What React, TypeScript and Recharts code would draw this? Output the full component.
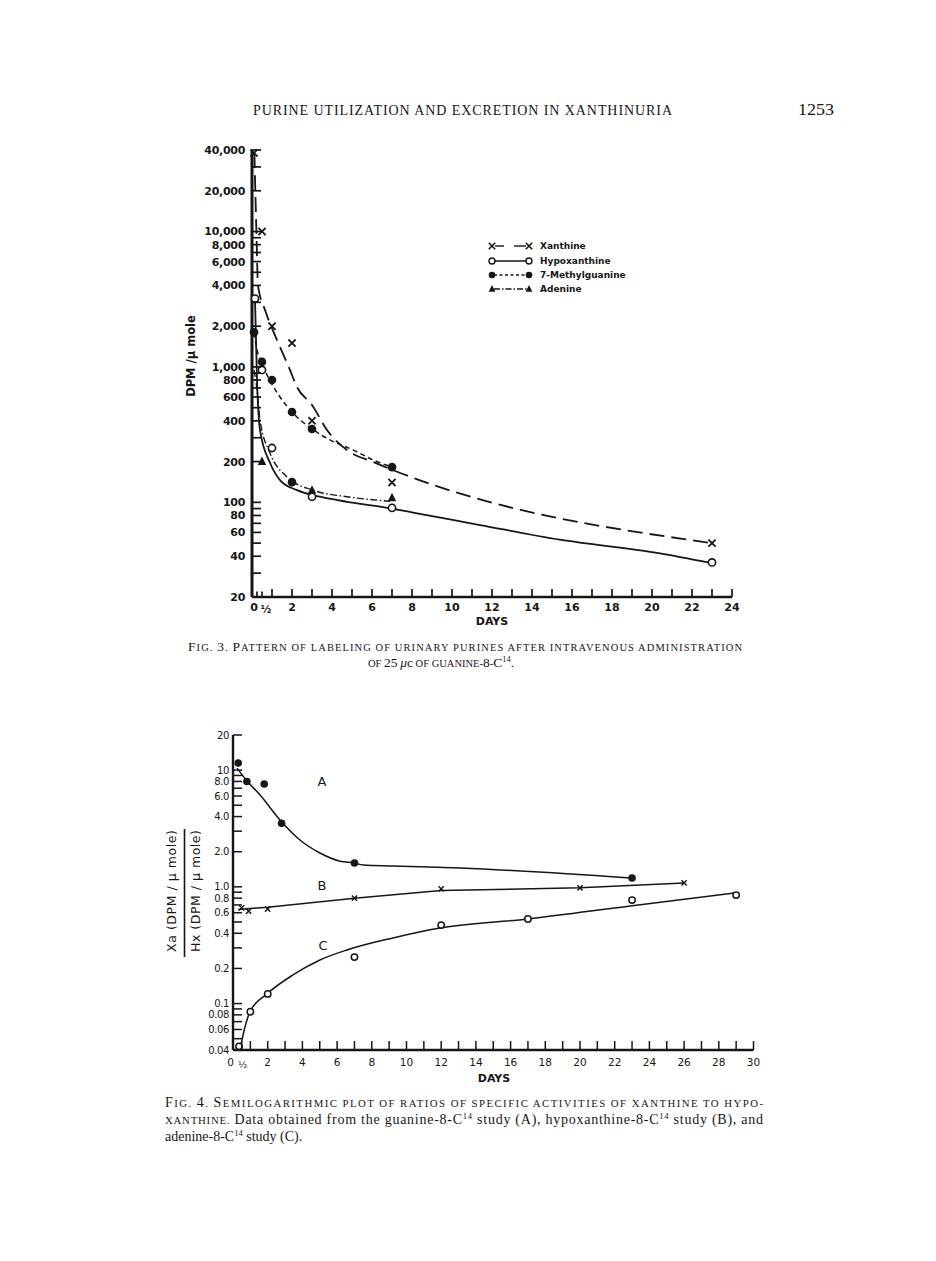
import React from 'react';
import { ComposedChart, Line, Scatter, XAxis, YAxis } from 'recharts';

// ---------------- Fig. 3 data (days, DPM / µmole) ----------------
const fig3XanthinePoints = [
  { d: 0.1, v: 38000 }, { d: 0.5, v: 10000 }, { d: 1, v: 2000 }, { d: 2, v: 1500 },
  { d: 3, v: 400 }, { d: 7, v: 140 }, { d: 23, v: 50 },
];
const fig3XanthineCurve = [
  { d: 0.12, v: 38000 }, { d: 0.22, v: 10000 }, { d: 0.3, v: 4000 }, { d: 0.65, v: 2640 },
  { d: 1.25, v: 1580 }, { d: 1.9, v: 950 }, { d: 2.25, v: 710 }, { d: 3, v: 524 },
  { d: 3.75, v: 342 }, { d: 4.9, v: 235 }, { d: 6.05, v: 199 }, { d: 7.05, v: 173 },
  { d: 23, v: 50 },
];
const fig3HypoPoints = [
  { d: 0.15, v: 3200 }, { d: 0.5, v: 950 }, { d: 1, v: 252 }, { d: 3, v: 110 },
  { d: 7, v: 91 }, { d: 23, v: 36 },
];
const fig3HypoCurve = [
  { d: 0.15, v: 3180 }, { d: 0.25, v: 800 }, { d: 0.4, v: 342 }, { d: 0.9, v: 196 },
  { d: 1.4, v: 146 }, { d: 2.25, v: 123 }, { d: 3.4, v: 110 }, { d: 4.75, v: 101 },
  { d: 6.4, v: 93 }, { d: 8.05, v: 84 }, { d: 11.4, v: 68 }, { d: 15.4, v: 53 },
  { d: 20.4, v: 42 }, { d: 22.8, v: 36 },
];
const fig3MethylPoints = [
  { d: 0.1, v: 1800 }, { d: 0.5, v: 1090 }, { d: 1, v: 800 }, { d: 2, v: 465 },
  { d: 2, v: 141 }, { d: 3, v: 348 }, { d: 7, v: 182 },
];
const fig3MethylCurve = [
  { d: 0.1, v: 1790 }, { d: 0.3, v: 1250 }, { d: 0.5, v: 1050 }, { d: 0.9, v: 790 },
  { d: 1.4, v: 600 }, { d: 2, v: 465 }, { d: 3, v: 348 }, { d: 3.9, v: 289 },
  { d: 5.05, v: 244 }, { d: 6.05, v: 206 }, { d: 7, v: 182 },
];
const fig3AdeninePoints = [{ d: 0.5, v: 200 }, { d: 3, v: 123 }, { d: 7, v: 108 }];
const fig3AdenineCurve = [
  { d: 0.1, v: 950 }, { d: 0.25, v: 677 }, { d: 0.4, v: 406 }, { d: 0.9, v: 231 },
  { d: 1.75, v: 154 }, { d: 3.05, v: 123 }, { d: 4.75, v: 110 }, { d: 6.9, v: 102 },
];

const fig3YLabeled = [20, 40, 60, 80, 100, 200, 400, 600, 800, 1000, 2000, 4000, 6000, 8000, 10000, 20000, 40000];
const fig3YLabels = ['20', '40', '60', '80', '100', '200', '400', '600', '800', '1,000', '2,000', '4,000', '6,000', '8,000', '10,000', '20,000', '40,000'];
const fig3YMinor = [30, 50, 70, 90, 300, 500, 700, 900, 3000, 5000, 7000, 9000, 30000];
const fig3XTicks = [0.25, 0.5, 1, 2, 3, 4, 5, 6, 7, 8, 9, 10, 11, 12, 13, 14, 15, 16, 17, 18, 19, 20, 21, 22, 23, 24];
const fig3XLabeled = [2, 4, 6, 8, 10, 12, 14, 16, 18, 20, 22, 24];

// ---------------- Fig. 4 data (days, ratio Xa/Hx) ----------------
const fig4APoints = [
  { d: 0.3, v: 11.5 }, { d: 0.8, v: 8.0 }, { d: 1.8, v: 7.6 }, { d: 2.8, v: 3.5 },
  { d: 7, v: 1.6 }, { d: 23, v: 1.19 },
];
const fig4ACurve = [
  { d: 0.23, v: 10.4 }, { d: 0.81, v: 8.07 }, { d: 1.56, v: 6.12 }, { d: 2.71, v: 3.74 },
  { d: 3.86, v: 2.52 }, { d: 5.01, v: 1.95 }, { d: 6.17, v: 1.66 }, { d: 6.97, v: 1.6 },
  { d: 7.5, v: 1.54 }, { d: 9.2, v: 1.51 }, { d: 13.1, v: 1.45 }, { d: 22.9, v: 1.19 },
];
const fig4BPoints = [
  { d: 0.5, v: 0.66 }, { d: 0.9, v: 0.62 }, { d: 2, v: 0.645 }, { d: 7, v: 0.8 },
  { d: 12, v: 0.96 }, { d: 20, v: 0.98 }, { d: 26, v: 1.08 },
];
const fig4BCurve = [
  { d: 0.3, v: 0.64 }, { d: 2, v: 0.67 }, { d: 7, v: 0.8 }, { d: 12, v: 0.93 },
  { d: 20, v: 0.98 }, { d: 26, v: 1.08 },
];
const fig4CPoints = [
  { d: 0.35, v: 0.043 }, { d: 1, v: 0.085 }, { d: 2, v: 0.121 }, { d: 7, v: 0.25 },
  { d: 12, v: 0.47 }, { d: 17, v: 0.53 }, { d: 23, v: 0.77 }, { d: 29, v: 0.85 },
];
const fig4CCurve = [
  { d: 0.4, v: 0.04 }, { d: 0.69, v: 0.063 }, { d: 0.98, v: 0.085 }, { d: 1.96, v: 0.121 },
  { d: 3.46, v: 0.176 }, { d: 5.01, v: 0.236 }, { d: 6.57, v: 0.288 }, { d: 9.22, v: 0.365 },
  { d: 11.93, v: 0.444 }, { d: 17, v: 0.531 }, { d: 22.9, v: 0.686 }, { d: 28.9, v: 0.885 },
];

const fig4YLabeled = [0.04, 0.06, 0.08, 0.1, 0.2, 0.4, 0.6, 0.8, 1, 2, 4, 6, 8, 10, 20];
const fig4YLabels = ['0.04', '0.06', '0.08', '0.1', '0.2', '0.4', '0.6', '0.8', '1.0', '2.0', '4.0', '6.0', '8.0', '10', '20'];
const fig4YMinor = [0.05, 0.07, 0.09, 0.3, 0.5, 0.7, 0.9, 3, 5, 7, 9];
const fig4XTicks = [0.5, 1, 2, 3, 4, 5, 6, 7, 8, 9, 10, 11, 12, 13, 14, 15, 16, 17, 18, 19, 20, 21, 22, 23, 24, 25, 26, 27, 28, 29, 30];
const fig4XLabeled = [2, 4, 6, 8, 10, 12, 14, 16, 18, 20, 22, 24, 26, 28, 30];

// ---------------- rendering helpers ----------------
const INK = '#161616';
const SANS = 'DejaVu Sans, sans-serif';
const SERIF = 'Liberation Serif, Times New Roman, serif';

const makeYTick = (labeled: number[], labels: string[], o: any) => (p: any) => {
  const v = p.payload.value;
  const i = labeled.indexOf(v);
  return (
    <g>
      {v !== o.min && (
        <line x1={p.x} x2={p.x + o.len} y1={p.y} y2={p.y} stroke={INK} strokeWidth={o.sw} />
      )}
      {i >= 0 && (
        <text x={p.x - o.gap} y={p.y} dy="0.36em" textAnchor="end" fontFamily={SANS}
          fontSize={o.fs} fontWeight={o.fw} letterSpacing={o.ls} fill={INK}>{labels[i]}</text>
      )}
    </g>
  );
};

const makeXTick = (labeled: number[], o: any) => (p: any) => {
  const v = p.payload.value;
  const tf = { fontFamily: SANS, fontSize: o.fs, fontWeight: o.fw, fill: INK };
  return (
    <g>
      <line x1={p.x} x2={p.x} y1={p.y} y2={p.y - (v < 1 && o.short ? o.len * 0.7 : o.len)} stroke={INK} strokeWidth={o.sw} />
      {v === 0.5 && (
        <g>
          <text x={p.x + o.zeroDx} y={p.y + o.dy} textAnchor="middle" {...tf}>0</text>
          <text x={p.x + o.halfDx} y={p.y + o.dy + 2} textAnchor="middle" {...tf} fontSize={o.fs - 1}>½</text>
        </g>
      )}
      {labeled.includes(v) && (
        <text x={p.x} y={p.y + o.dy} textAnchor="middle" {...tf}>{v}</text>
      )}
    </g>
  );
};

const xShape = (s: number, w: number) => (p: any) => (
  <path d={`M${p.cx - s},${p.cy - s}L${p.cx + s},${p.cy + s}M${p.cx - s},${p.cy + s}L${p.cx + s},${p.cy - s}`}
    stroke={INK} strokeWidth={w} fill="none" />
);
const openShape = (r: number, w: number) => (p: any) => (
  <circle cx={p.cx} cy={p.cy} r={r} fill="#fff" stroke={INK} strokeWidth={w} />
);
const dotShape = (r: number) => (p: any) => <circle cx={p.cx} cy={p.cy} r={r} fill={INK} />;
const triShape = (s: number) => (p: any) => (
  <path d={`M${p.cx},${p.cy - s}L${p.cx + s * 0.85},${p.cy + s * 0.7}L${p.cx - s * 0.85},${p.cy + s * 0.7}Z`} fill={INK} />
);

const legendRows = [
  { y: 246, label: 'Xanthine', dash: '9 5', kind: 'x' },
  { y: 261, label: 'Hypoxanthine', dash: '', kind: 'o' },
  { y: 275, label: '7-Methylguanine', dash: '3 2.5', kind: 'dot' },
  { y: 289, label: 'Adenine', dash: '6 2 1.5 2', kind: 'tri' },
];

const legendMarker = (kind: string, cx: number, cy: number) => {
  if (kind === 'x') return xShape(3.2, 1.6)({ cx, cy });
  if (kind === 'o') return openShape(3, 1.4)({ cx, cy });
  if (kind === 'dot') return dotShape(3.3)({ cx, cy });
  return triShape(4)({ cx, cy });
};

// Small caps built from runs: capitals/digits at full size, lowercase as smaller capitals.
const smallCaps = (s: string, big: number, small: number, keyBase: string) => {
  const runs: { t: string; big: boolean }[] = [];
  for (const ch of s) {
    const isBig = /[A-Z0-9]/.test(ch);
    const last = runs[runs.length - 1];
    if (last && last.big === isBig) last.t += ch;
    else runs.push({ t: ch, big: isBig });
  }
  return runs.map((r, i) => (
    <tspan key={keyBase + i} fontSize={r.big ? big : small}>{r.big ? r.t : r.t.toUpperCase()}</tspan>
  ));
};

// "^" marks a superscript "14" (C-14).
const withSup = (s: string, keyBase: string) => {
  const parts = s.split('^');
  const out: any[] = [];
  parts.forEach((part, i) => {
    if (i === 0) out.push(<tspan key={keyBase + 'p0'}>{part}</tspan>);
    else {
      out.push(<tspan key={keyBase + 's' + i} fontSize={8.5} dy={-5}>14</tspan>);
      out.push(<tspan key={keyBase + 'p' + i} dy={5}>{part}</tspan>);
    }
  });
  return out;
};

export default function App() {
  const y3 = makeYTick(fig3YLabeled, fig3YLabels, { min: 20, len: 9, sw: 1.7, gap: 7, fs: 11, fw: 'bold', ls: -0.3 });
  const x3 = makeXTick(fig3XLabeled, { len: 8, sw: 1.7, dy: 14, fs: 11, fw: 'bold', zeroDx: -8, halfDx: 4, short: true });
  const y4 = makeYTick(fig4YLabeled, fig4YLabels, { min: 0.04, len: 9, sw: 1.5, gap: 4, fs: 10, fw: 'normal', ls: -0.4 });
  const x4 = makeXTick(fig4XLabeled, { len: 9, sw: 1.5, dy: 16, fs: 10.5, fw: 'normal', zeroDx: -11, halfDx: 1, short: false });

  return (
    <div style={{ position: 'absolute', left: 0, top: 0, width: 936, height: 1261, background: '#fff', overflow: 'hidden' }}>
      {/* Fig. 3 */}
      <div style={{ position: 'absolute', left: 0, top: 0 }}>
        <ComposedChart width={936} height={640} margin={{ top: 150, right: 204, bottom: 13, left: 192 }}>
          <XAxis type="number" dataKey="d" domain={[0, 24]} ticks={fig3XTicks} interval={0}
            tickSize={0} tickMargin={0} tickLine={false} height={30}
            axisLine={{ stroke: INK, strokeWidth: 2.6 }} tick={x3} />
          <YAxis type="number" scale="log" domain={[20, 40000]} ticks={[...fig3YLabeled, ...fig3YMinor]}
            interval={0} tickSize={0} tickMargin={0} tickLine={false} width={60}
            axisLine={{ stroke: INK, strokeWidth: 3 }} tick={y3} />
          <Line data={fig3XanthineCurve} dataKey="v" type="monotone" stroke={INK} strokeWidth={1.8}
            strokeDasharray="15 7" dot={false} isAnimationActive={false} />
          <Line data={fig3HypoCurve} dataKey="v" type="monotone" stroke={INK} strokeWidth={1.8}
            dot={false} isAnimationActive={false} />
          <Line data={fig3MethylCurve} dataKey="v" type="monotone" stroke={INK} strokeWidth={1.5}
            strokeDasharray="5 3.5" dot={false} isAnimationActive={false} />
          <Line data={fig3AdenineCurve} dataKey="v" type="monotone" stroke={INK} strokeWidth={1.4}
            strokeDasharray="7 2.5 1.5 2.5" dot={false} isAnimationActive={false} />
          <Scatter data={fig3XanthinePoints} dataKey="v" shape={xShape(3.6, 1.8)} isAnimationActive={false} />
          <Scatter data={fig3HypoPoints} dataKey="v" shape={openShape(3.6, 1.6)} isAnimationActive={false} />
          <Scatter data={fig3MethylPoints} dataKey="v" shape={dotShape(4.3)} isAnimationActive={false} />
          <Scatter data={fig3AdeninePoints} dataKey="v" shape={triShape(5)} isAnimationActive={false} />
        </ComposedChart>
      </div>

      {/* Fig. 4 */}
      <div style={{ position: 'absolute', left: 0, top: 700 }}>
        <ComposedChart width={936} height={400} margin={{ top: 35, right: 182.5, bottom: 20, left: 173 }}>
          <XAxis type="number" dataKey="d" domain={[0, 30]} ticks={fig4XTicks} interval={0}
            tickSize={0} tickMargin={0} tickLine={false} height={30}
            axisLine={{ stroke: INK, strokeWidth: 2.4 }} tick={x4} />
          <YAxis type="number" scale="log" domain={[0.04, 20]} ticks={[...fig4YLabeled, ...fig4YMinor]}
            interval={0} tickSize={0} tickMargin={0} tickLine={false} width={60}
            axisLine={{ stroke: INK, strokeWidth: 2.4 }} tick={y4} />
          <Line data={fig4ACurve} dataKey="v" type="monotone" stroke={INK} strokeWidth={1.5}
            dot={false} isAnimationActive={false} />
          <Line data={fig4BCurve} dataKey="v" type="linear" stroke={INK} strokeWidth={1.5}
            dot={false} isAnimationActive={false} />
          <Line data={fig4CCurve} dataKey="v" type="monotone" stroke={INK} strokeWidth={1.5}
            dot={false} isAnimationActive={false} />
          <Scatter data={fig4APoints} dataKey="v" shape={dotShape(3.8)} isAnimationActive={false} />
          <Scatter data={fig4BPoints} dataKey="v" shape={xShape(2.6, 1.5)} isAnimationActive={false} />
          <Scatter data={fig4CPoints} dataKey="v" shape={openShape(3.2, 1.5)} isAnimationActive={false} />
        </ComposedChart>
      </div>

      {/* Page text, legend and axis titles */}
      <svg width={936} height={1261} style={{ position: 'absolute', left: 0, top: 0, pointerEvents: 'none' }}>
        <text x={253} y={115} textLength={419} lengthAdjust="spacing" fontFamily={SERIF} fontSize={14} fill={INK}>
          PURINE UTILIZATION AND EXCRETION IN XANTHINURIA
        </text>
        <text x={798} y={115} textLength={36} lengthAdjust="spacingAndGlyphs" fontFamily={SERIF} fontSize={17} fill={INK}>1253</text>

        {/* Fig 3 legend */}
        {legendRows.map((r) => (
          <g key={r.label}>
            {r.kind === 'x' ? (
              <g>
                <line x1={495} x2={504} y1={r.y} y2={r.y} stroke={INK} strokeWidth={1.4} />
                <line x1={514} x2={526} y1={r.y} y2={r.y} stroke={INK} strokeWidth={1.4} />
              </g>
            ) : (
              <line x1={494} x2={527} y1={r.y} y2={r.y} stroke={INK} strokeWidth={1.4} strokeDasharray={r.dash || undefined} />
            )}
            {legendMarker(r.kind, 492, r.y)}
            {legendMarker(r.kind, 529, r.y)}
            <text x={540} y={r.y} dy="0.35em" fontFamily={SANS} fontSize={9} fontWeight="bold" fill={INK}>{r.label}</text>
          </g>
        ))}

        <text transform="translate(195,356) rotate(-90)" textAnchor="middle" fontFamily={SANS} fontSize={11.5} fontWeight="bold" fill={INK}>DPM /μ mole</text>
        <text x={492} y={625} textAnchor="middle" fontFamily={SANS} fontSize={11} fontWeight="bold" fill={INK}>DAYS</text>

        <text x={188} y={651} textLength={554} lengthAdjust="spacing" fontFamily={SERIF} fill={INK}>
          {smallCaps('Fig. 3.  Pattern of labeling of urinary purines after intravenous administration', 13.5, 10.5, 'c3a')}
        </text>
        <text x={368} y={667} fontFamily={SERIF} fill={INK}>
          {smallCaps('of 25 ', 13.5, 10.5, 'c3b')}
          <tspan fontSize={13.5} fontStyle="italic">μ</tspan>
          <tspan fontSize={13.5}>c</tspan>
          {smallCaps(' of guanine-8-C', 13.5, 10.5, 'c3c')}
          <tspan fontSize={8.5} dy={-5}>14</tspan>
          <tspan fontSize={13.5} dy={5}>.</tspan>
        </text>

        {/* Fig 4 axis titles and curve letters */}
        <text transform="translate(176,891) rotate(-90)" textAnchor="middle" textLength={122} lengthAdjust="spacing" fontFamily={SANS} fontSize={12.5} fill={INK}>Xa (DPM / μ mole)</text>
        <line x1={184.5} x2={184.5} y1={829} y2={957} stroke={INK} strokeWidth={1.6} />
        <text transform="translate(200,891) rotate(-90)" textAnchor="middle" textLength={122} lengthAdjust="spacing" fontFamily={SANS} fontSize={12.5} fill={INK}>Hx (DPM / μ mole)</text>
        <text x={322} y={786} textAnchor="middle" fontFamily={SANS} fontSize={13} fill={INK}>A</text>
        <text x={322} y={890} textAnchor="middle" fontFamily={SANS} fontSize={13} fill={INK}>B</text>
        <text x={323} y={950} textAnchor="middle" fontFamily={SANS} fontSize={13} fill={INK}>C</text>
        <text x={494} y={1082} textAnchor="middle" fontFamily={SANS} fontSize={11} fontWeight="bold" fill={INK}>DAYS</text>

        <text x={165} y={1107} textLength={598} lengthAdjust="spacing" fontFamily={SERIF} fill={INK}>
          {smallCaps('Fig. 4.  Semilogarithmic plot of ratios of specific activities of xanthine to hypo-', 14, 10.8, 'c4a')}
        </text>
        <text x={165} y={1124} textLength={598} lengthAdjust="spacing" fontFamily={SERIF} fontSize={14} fill={INK}>
          {smallCaps('xanthine.', 14, 10.8, 'c4b')}
          {withSup('  Data obtained from the guanine-8-C^ study (A), hypoxanthine-8-C^ study (B), and', 'c4c')}
        </text>
        <text x={165} y={1141} fontFamily={SERIF} fontSize={14} fill={INK}>
          {withSup('adenine-8-C^ study (C).', 'c4d')}
        </text>
      </svg>
    </div>
  );
}
